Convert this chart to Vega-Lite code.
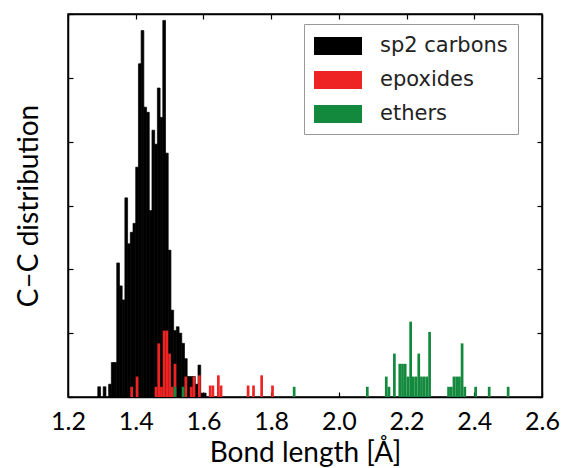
{
  "$schema": "https://vega.github.io/schema/vega-lite/v6.json",
  "width": 474,
  "height": 383,
  "autosize": {"type": "none"},
  "padding": {"left": 68, "top": 14, "right": 20, "bottom": 71},
  "background": "white",
  "config": {
    "view": {"stroke": "#000000", "strokeWidth": 1.5},
    "font": "Lato",
    "axis": {"domainColor": "#000000", "domainWidth": 1.5, "tickColor": "#000000", "tickWidth": 1.2, "grid": false}
  },
  "datasets": {
    "bins": [
      {"type": "sp2 carbons", "start": 1.288, "end": 1.296, "count": 8},
      {"type": "sp2 carbons", "start": 1.304, "end": 1.312, "count": 8},
      {"type": "sp2 carbons", "start": 1.320, "end": 1.328, "count": 10},
      {"type": "sp2 carbons", "start": 1.328, "end": 1.336, "count": 27},
      {"type": "sp2 carbons", "start": 1.336, "end": 1.344, "count": 27},
      {"type": "sp2 carbons", "start": 1.344, "end": 1.352, "count": 105},
      {"type": "sp2 carbons", "start": 1.352, "end": 1.360, "count": 87},
      {"type": "sp2 carbons", "start": 1.360, "end": 1.368, "count": 76},
      {"type": "sp2 carbons", "start": 1.368, "end": 1.376, "count": 156},
      {"type": "sp2 carbons", "start": 1.376, "end": 1.384, "count": 120},
      {"type": "sp2 carbons", "start": 1.384, "end": 1.392, "count": 129},
      {"type": "sp2 carbons", "start": 1.392, "end": 1.400, "count": 136},
      {"type": "sp2 carbons", "start": 1.400, "end": 1.408, "count": 180},
      {"type": "sp2 carbons", "start": 1.408, "end": 1.416, "count": 261},
      {"type": "sp2 carbons", "start": 1.416, "end": 1.424, "count": 287},
      {"type": "sp2 carbons", "start": 1.424, "end": 1.432, "count": 227},
      {"type": "sp2 carbons", "start": 1.432, "end": 1.440, "count": 223},
      {"type": "sp2 carbons", "start": 1.440, "end": 1.448, "count": 146},
      {"type": "sp2 carbons", "start": 1.448, "end": 1.456, "count": 209},
      {"type": "sp2 carbons", "start": 1.456, "end": 1.464, "count": 198},
      {"type": "sp2 carbons", "start": 1.464, "end": 1.472, "count": 242},
      {"type": "sp2 carbons", "start": 1.472, "end": 1.480, "count": 219},
      {"type": "sp2 carbons", "start": 1.480, "end": 1.488, "count": 295},
      {"type": "sp2 carbons", "start": 1.488, "end": 1.496, "count": 191},
      {"type": "sp2 carbons", "start": 1.496, "end": 1.504, "count": 115},
      {"type": "sp2 carbons", "start": 1.504, "end": 1.512, "count": 68},
      {"type": "sp2 carbons", "start": 1.512, "end": 1.520, "count": 52},
      {"type": "sp2 carbons", "start": 1.520, "end": 1.528, "count": 55},
      {"type": "sp2 carbons", "start": 1.528, "end": 1.536, "count": 50},
      {"type": "sp2 carbons", "start": 1.536, "end": 1.544, "count": 42},
      {"type": "sp2 carbons", "start": 1.544, "end": 1.552, "count": 30},
      {"type": "sp2 carbons", "start": 1.552, "end": 1.560, "count": 16},
      {"type": "sp2 carbons", "start": 1.560, "end": 1.568, "count": 16},
      {"type": "sp2 carbons", "start": 1.568, "end": 1.576, "count": 16},
      {"type": "sp2 carbons", "start": 1.576, "end": 1.584, "count": 10},
      {"type": "sp2 carbons", "start": 1.584, "end": 1.592, "count": 25},
      {"type": "sp2 carbons", "start": 1.592, "end": 1.600, "count": 3},
      {"type": "sp2 carbons", "start": 1.600, "end": 1.608, "count": 3},
      {"type": "epoxides", "start": 1.384, "end": 1.392, "count": 8},
      {"type": "epoxides", "start": 1.400, "end": 1.408, "count": 16},
      {"type": "epoxides", "start": 1.456, "end": 1.464, "count": 8},
      {"type": "epoxides", "start": 1.464, "end": 1.472, "count": 42},
      {"type": "epoxides", "start": 1.472, "end": 1.480, "count": 8},
      {"type": "epoxides", "start": 1.480, "end": 1.488, "count": 52},
      {"type": "epoxides", "start": 1.488, "end": 1.496, "count": 52},
      {"type": "epoxides", "start": 1.496, "end": 1.504, "count": 34},
      {"type": "epoxides", "start": 1.504, "end": 1.512, "count": 8},
      {"type": "epoxides", "start": 1.512, "end": 1.520, "count": 26},
      {"type": "epoxides", "start": 1.544, "end": 1.552, "count": 16},
      {"type": "epoxides", "start": 1.560, "end": 1.568, "count": 8},
      {"type": "epoxides", "start": 1.568, "end": 1.576, "count": 16},
      {"type": "epoxides", "start": 1.584, "end": 1.592, "count": 17},
      {"type": "epoxides", "start": 1.616, "end": 1.624, "count": 9},
      {"type": "epoxides", "start": 1.624, "end": 1.632, "count": 9},
      {"type": "epoxides", "start": 1.640, "end": 1.648, "count": 17},
      {"type": "epoxides", "start": 1.648, "end": 1.656, "count": 9},
      {"type": "epoxides", "start": 1.728, "end": 1.736, "count": 9},
      {"type": "epoxides", "start": 1.744, "end": 1.752, "count": 9},
      {"type": "epoxides", "start": 1.768, "end": 1.776, "count": 17},
      {"type": "epoxides", "start": 1.800, "end": 1.808, "count": 9},
      {"type": "ethers", "start": 1.512, "end": 1.520, "count": 8},
      {"type": "ethers", "start": 1.536, "end": 1.544, "count": 8},
      {"type": "ethers", "start": 1.864, "end": 1.872, "count": 8},
      {"type": "ethers", "start": 2.080, "end": 2.088, "count": 8},
      {"type": "ethers", "start": 2.136, "end": 2.144, "count": 16},
      {"type": "ethers", "start": 2.144, "end": 2.152, "count": 8},
      {"type": "ethers", "start": 2.160, "end": 2.168, "count": 34},
      {"type": "ethers", "start": 2.176, "end": 2.184, "count": 26},
      {"type": "ethers", "start": 2.184, "end": 2.192, "count": 26},
      {"type": "ethers", "start": 2.192, "end": 2.200, "count": 26},
      {"type": "ethers", "start": 2.200, "end": 2.208, "count": 16},
      {"type": "ethers", "start": 2.208, "end": 2.216, "count": 59},
      {"type": "ethers", "start": 2.216, "end": 2.224, "count": 16},
      {"type": "ethers", "start": 2.224, "end": 2.232, "count": 16},
      {"type": "ethers", "start": 2.232, "end": 2.240, "count": 34},
      {"type": "ethers", "start": 2.240, "end": 2.248, "count": 16},
      {"type": "ethers", "start": 2.248, "end": 2.256, "count": 16},
      {"type": "ethers", "start": 2.256, "end": 2.264, "count": 16},
      {"type": "ethers", "start": 2.264, "end": 2.272, "count": 51},
      {"type": "ethers", "start": 2.320, "end": 2.328, "count": 8},
      {"type": "ethers", "start": 2.328, "end": 2.336, "count": 8},
      {"type": "ethers", "start": 2.336, "end": 2.344, "count": 16},
      {"type": "ethers", "start": 2.344, "end": 2.352, "count": 16},
      {"type": "ethers", "start": 2.352, "end": 2.360, "count": 16},
      {"type": "ethers", "start": 2.360, "end": 2.368, "count": 42},
      {"type": "ethers", "start": 2.368, "end": 2.376, "count": 8},
      {"type": "ethers", "start": 2.400, "end": 2.408, "count": 8},
      {"type": "ethers", "start": 2.440, "end": 2.448, "count": 8},
      {"type": "ethers", "start": 2.496, "end": 2.504, "count": 8}
    ]
  },
  "data": {"name": "bins"},
  "layer": [
    {
      "transform": [{"filter": "datum.type == 'sp2 carbons'"}],
      "mark": {"type": "bar", "stroke": "#000000", "strokeWidth": 0.7},
      "encoding": {
        "x": {
          "field": "start", "type": "quantitative",
          "scale": {"domain": [1.2, 2.6], "nice": false, "zero": false},
          "axis": {
            "orient": "bottom", "values": [1.2, 1.4, 1.6, 1.8, 2.0, 2.2, 2.4, 2.6], "format": ".1f",
            "tickSize": -5, "labelPadding": 17, "labelFontSize": 25, "labelColor": "#000000", "labelFlush": false,
            "title": "Bond length [Å]", "titleFontSize": 28, "titleFontWeight": "normal", "titleColor": "#000000", "titlePadding": 5
          }
        },
        "x2": {"field": "end"},
        "y": {
          "field": "count", "type": "quantitative", "stack": null,
          "scale": {"domain": [0, 300], "nice": false},
          "axis": {
            "orient": "left", "values": [0, 50, 100, 150, 200, 250, 300], "labels": false,
            "tickSize": -5, "title": "C–C distribution", "titleFontSize": 28, "titleFontWeight": "normal",
            "titleColor": "#000000", "titlePadding": 24
          }
        },
        "y2": {"datum": 0},
        "color": {
          "field": "type", "type": "nominal",
          "scale": {"domain": ["sp2 carbons", "epoxides", "ethers"], "range": ["#000000", "#ee2424", "#12893d"]},
          "legend": {
            "orient": "none", "legendX": 236, "legendY": 10, "title": null,
            "padding": 10, "strokeColor": "#999999", "fillColor": "#ffffff",
            "symbolType": "M-1,-0.75H3V0.75H-1Z", "symbolSize": 576, "symbolStrokeWidth": 0, "symbolOpacity": 1,
            "labelFont": "DejaVu Sans", "labelFontSize": 21, "labelColor": "#222222", "labelOffset": 42,
            "rowPadding": 12
          }
        }
      }
    },
    {
      "transform": [{"filter": "datum.type != 'sp2 carbons'"}],
      "mark": {"type": "bar"},
      "encoding": {
        "x": {
          "field": "start", "type": "quantitative",
          "axis": {"orient": "top", "values": [1.2, 1.4, 1.6, 1.8, 2.0, 2.2, 2.4, 2.6], "labels": false, "tickSize": -5, "title": null}
        },
        "x2": {"field": "end"},
        "y": {
          "field": "count", "type": "quantitative", "stack": null,
          "axis": {"orient": "right", "values": [0, 50, 100, 150, 200, 250, 300], "labels": false, "tickSize": -5, "title": null}
        },
        "y2": {"datum": 0},
        "color": {"field": "type", "type": "nominal", "legend": null}
      }
    }
  ],
  "resolve": {"axis": {"x": "independent", "y": "independent"}}
}
